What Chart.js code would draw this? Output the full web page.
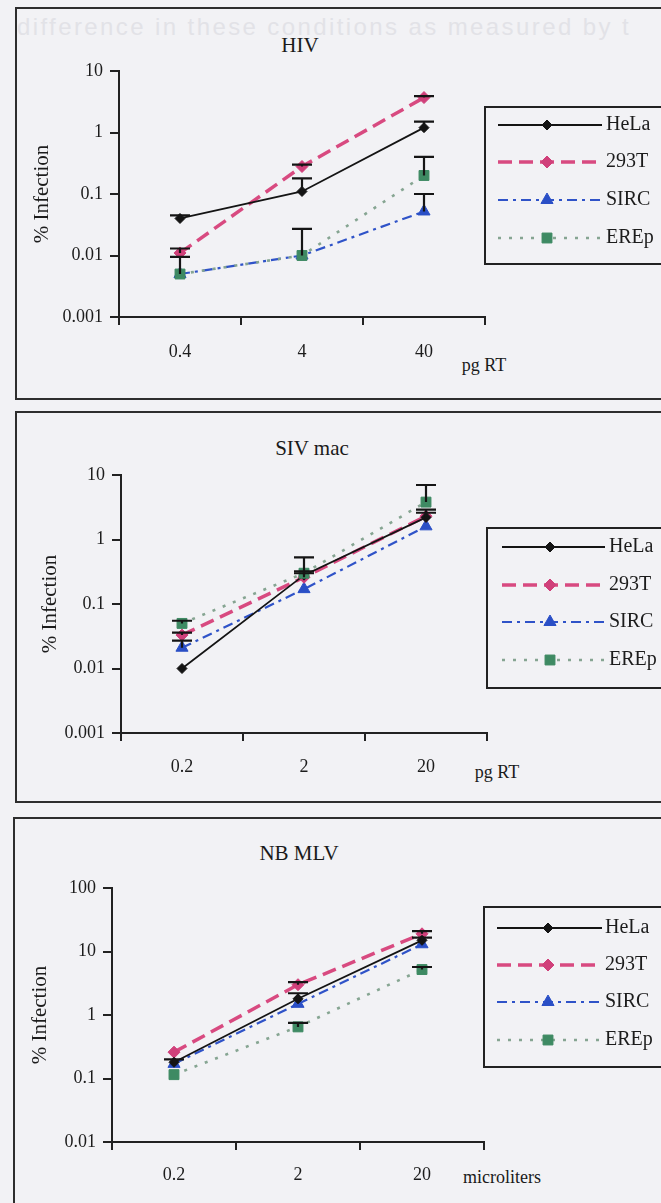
<!DOCTYPE html>
<html>
<head>
<meta charset="utf-8">
<title>% Infection by dose</title>
<script src="https://cdn.jsdelivr.net/npm/chart.js@4.4.1/dist/chart.umd.min.js"></script>
<style>
  body { margin: 0; width: 661px; height: 1203px; overflow: hidden; position: relative;
         background: #f2f2f5; font-family: "Liberation Serif", "Times New Roman", serif; color: #1a1a1a; }
  .box { position: absolute; width: 700px; border: 2px solid #2e2e2e; }
  canvas { position: absolute; left: 0; }
  .lbl { position: absolute; transform: translate(-50%, -50%); white-space: nowrap; }
  .ttl { font-size: 21px; }
  .unit { font-size: 18px; }
  .ghost { position: absolute; left: 17px; top: 13px; font: 24px "Liberation Sans", sans-serif;
           color: #e2e2e7; white-space: nowrap; letter-spacing: 2.4px; }
</style>
</head>
<body>
<div class="ghost">difference in these conditions as measured by t</div>

<div class="box" style="left:15px; top:7px; height:389px;"></div>
<div class="box" style="left:15px; top:411px; height:388px;"></div>
<div class="box" style="left:13px; top:817px; height:400px;"></div>

<div class="lbl ttl" style="left:300px; top:45px;">HIV</div>
<div class="lbl ttl" style="left:312px; top:448px;">SIV mac</div>
<div class="lbl ttl" style="left:299px; top:853px;">NB MLV</div>

<div class="lbl unit" style="left:484px; top:365px;">pg RT</div>
<div class="lbl unit" style="left:497px; top:772px;">pg RT</div>
<div class="lbl unit" style="left:502px; top:1177px;">microliters</div>

<canvas id="hiv" width="661" height="400" style="top:0px;"></canvas>
<canvas id="siv" width="661" height="403" style="top:400px;"></canvas>
<canvas id="mlv" width="661" height="400" style="top:803px;"></canvas>

<script>
const seriesNames = ['HeLa', '293T', 'SIRC', 'EREp'];
const yTicksLow = [0.001, 0.01, 0.1, 1, 10];
const yTicksHigh = [0.01, 0.1, 1, 10, 100];

// HIV (pg RT)
const hivDoses = ['0.4', '4', '40'];
const hivHeLa = [0.04, 0.11, 1.2];
const hiv293T = [0.011, 0.28, 3.7];
const hivSIRC = [0.005, 0.01, 0.052];
const hivEREp = [0.005, 0.01, 0.2];
// upper end of the error bars (null = none)
const hivHeLaTop = [0.045, 0.18, 1.5];
const hiv293TTop = [0.013, 0.3, 3.9];
const hivSIRCTop = [null, null, 0.1];
const hivEREpTop = [0.0095, 0.027, 0.4];

// SIV mac (pg RT)
const sivDoses = ['0.2', '2', '20'];
const sivHeLa = [0.01, 0.28, 2.2];
const siv293T = [0.033, 0.26, 2.3];
const sivSIRC = [0.021, 0.17, 1.6];
const sivEREp = [0.05, 0.3, 3.8];
const sivHeLaTop = [null, 0.32, 2.9];
const siv293TTop = [0.036, 0.3, 2.6];
const sivSIRCTop = [0.027, null, null];
const sivEREpTop = [0.055, 0.53, 7];

// NB MLV (microliters)
const mlvDoses = ['0.2', '2', '20'];
const mlvHeLa = [0.18, 1.8, 15];
const mlv293T = [0.26, 3, 19];
const mlvSIRC = [0.17, 1.5, 13];
const mlvEREp = [0.115, 0.65, 5.2];
const mlvHeLaTop = [0.2, 2.2, 16.5];
const mlv293TTop = [null, 3.3, 21];
const mlvSIRCTop = [null, null, null];
const mlvEREpTop = [null, 0.75, 5.7];

const serif = '"Liberation Serif", "Times New Roman", serif';
const ink = '#1c1c1c';

const seriesStyle = [
  { color: '#141414', width: 1.8, dash: [], point: 'rectRot', radius: 5, fill: '#141414', order: 1 },
  { color: '#d84a80', width: 3.5, dash: [14, 7], point: 'rectRot', radius: 6, fill: '#d0407a', order: 2 },
  { color: '#2f53c8', width: 2.2, dash: [10, 5, 3, 5], point: 'triangle', radius: 7, fill: '#2a4fc6', order: 3 },
  { color: '#86a592', width: 2.6, dash: [3, 8], point: 'rect', radius: 7, fill: '#3e8a63', order: 0 }
];

const errorBars = {
  id: 'errorBars',
  afterDatasetsDraw(chart) {
    const { ctx, scales: { x, y } } = chart;
    ctx.save();
    ctx.strokeStyle = '#151515';
    ctx.lineWidth = 2.2;
    chart.data.datasets.forEach(ds => {
      (ds.errTop || []).forEach((top, j) => {
        if (top == null) return;
        const px = x.getPixelForValue(j);
        const y0 = y.getPixelForValue(ds.data[j]);
        const y1 = y.getPixelForValue(top);
        ctx.beginPath();
        ctx.moveTo(px, y0); ctx.lineTo(px, y1);
        ctx.moveTo(px - 10, y1); ctx.lineTo(px + 10, y1);
        ctx.stroke();
      });
    });
    ctx.restore();
  }
};

// legend in a framed box like the original figure
const boxLegend = {
  id: 'boxLegend',
  afterDraw(chart, args, opts) {
    const ctx = chart.ctx;
    ctx.save();
    ctx.lineWidth = 2;
    ctx.strokeStyle = '#222';
    ctx.strokeRect(opts.left, opts.top, 720 - opts.left, opts.bottom - opts.top);
    chart.data.datasets.forEach((ds, i) => {
      const y = opts.rows[i];
      ctx.setLineDash(ds.borderDash);
      ctx.lineWidth = ds.borderWidth;
      ctx.strokeStyle = ds.borderColor;
      ctx.beginPath();
      ctx.moveTo(opts.x0, y); ctx.lineTo(opts.x1, y);
      ctx.stroke();
      ctx.setLineDash([]);
      ctx.fillStyle = ds.pointBackgroundColor;
      ctx.strokeStyle = ds.pointBorderColor;
      ctx.lineWidth = 1;
      Chart.helpers.drawPoint(ctx, { pointStyle: ds.pointStyle, radius: ds.pointRadius, rotation: 0, borderWidth: 1 }, opts.mark, y);
      ctx.fillStyle = ink;
      ctx.font = '20px ' + serif;
      ctx.textBaseline = 'middle';
      ctx.fillText(ds.label, opts.text, y);
    });
    ctx.restore();
  }
};

function makePanel(id, doses, series, tops, yTicks, lay) {
  new Chart(document.getElementById(id), {
    type: 'line',
    data: {
      labels: doses,
      datasets: seriesNames.map((name, i) => {
        const st = seriesStyle[i];
        return {
          label: name, data: series[i], errTop: tops[i], order: st.order,
          borderColor: st.color, borderWidth: st.width, borderDash: st.dash,
          pointStyle: st.point, pointRadius: st.radius,
          pointBackgroundColor: st.fill, pointBorderColor: st.fill, pointBorderWidth: 1,
          fill: false, tension: 0
        };
      })
    },
    options: {
      responsive: false,
      animation: false,
      layout: { padding: lay.padding },
      plugins: {
        legend: { display: false },
        tooltip: { enabled: false },
        boxLegend: lay.legend
      },
      scales: {
        x: {
          type: 'category',
          offset: true,
          grid: { offset: true, drawOnChartArea: false, tickLength: 8, color: '#222', lineWidth: 2 },
          border: { color: '#222', width: 2 },
          ticks: { color: ink, font: { family: serif, size: 18 }, padding: lay.xPad, maxRotation: 0 },
          afterFit: s => { s.height = lay.xHeight; }
        },
        y: {
          type: 'logarithmic',
          min: yTicks[0],
          max: yTicks[yTicks.length - 1],
          afterBuildTicks: s => { s.ticks = yTicks.map(v => ({ value: v })); },
          grid: { drawOnChartArea: false, tickLength: 9, color: '#222', lineWidth: 2 },
          border: { color: '#222', width: 2 },
          ticks: { color: ink, font: { family: serif, size: 18 }, padding: 7, callback: v => String(v) },
          title: { display: true, text: '% Infection', color: ink, font: { family: serif, size: 21 }, padding: 0 },
          afterFit: s => { s.width = lay.yWidth; }
        }
      }
    },
    plugins: [errorBars, boxLegend]
  });
}

makePanel('hiv', hivDoses,
  [hivHeLa, hiv293T, hivSIRC, hivEREp],
  [hivHeLaTop, hiv293TTop, hivSIRCTop, hivEREpTop],
  yTicksLow,
  { padding: { left: 30, top: 71, right: 176, bottom: 0 }, yWidth: 89, xHeight: 83, xPad: 16,
    legend: { left: 485, top: 107, bottom: 264, rows: [125, 162, 200, 238], x0: 498, x1: 602, mark: 547, text: 606 } });

makePanel('siv', sivDoses,
  [sivHeLa, siv293T, sivSIRC, sivEREp],
  [sivHeLaTop, siv293TTop, sivSIRCTop, sivEREpTop],
  yTicksLow,
  { padding: { left: 38, top: 75, right: 174, bottom: 0 }, yWidth: 83, xHeight: 70, xPad: 15,
    legend: { left: 487, top: 128, bottom: 288, rows: [147, 185, 222, 260], x0: 502, x1: 605, mark: 550, text: 609 } });

makePanel('mlv', mlvDoses,
  [mlvHeLa, mlv293T, mlvSIRC, mlvEREp],
  [mlvHeLaTop, mlv293TTop, mlvSIRCTop, mlvEREpTop],
  yTicksHigh,
  { padding: { left: 28, top: 85, right: 177, bottom: 0 }, yWidth: 84, xHeight: 61, xPad: 14,
    legend: { left: 484, top: 104, bottom: 264, rows: [125, 162, 199, 237], x0: 497, x1: 602, mark: 548, text: 605 } });
</script>
</body>
</html>
